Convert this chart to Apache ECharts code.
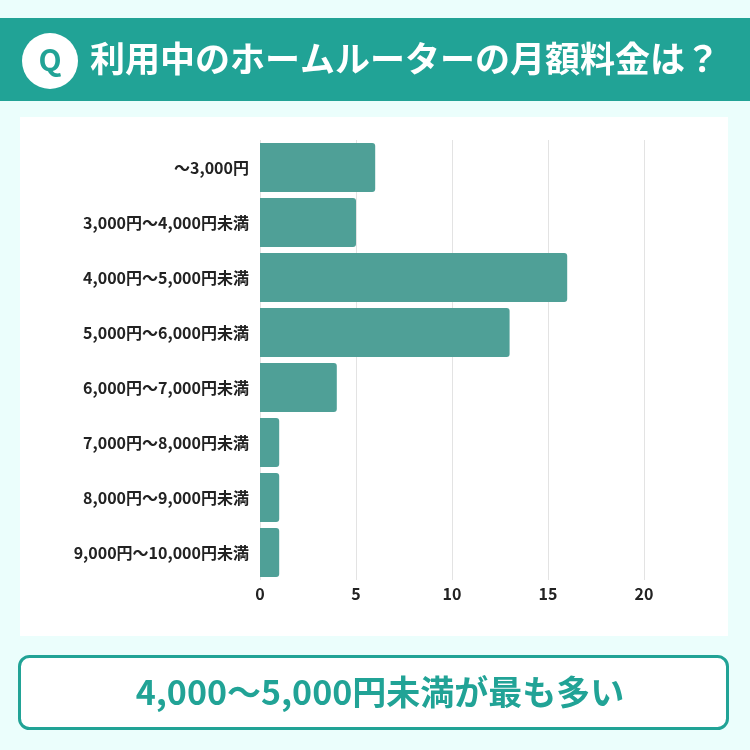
<!DOCTYPE html>
<html>
<head>
<meta charset="utf-8">
<script src="https://cdn.jsdelivr.net/npm/echarts@6/dist/echarts.min.js"></script>
<style>
html,body{margin:0;padding:0;background:#ebfefc;}
#main{width:750px;height:750px;}
</style>
</head>
<body>
<div id="main"></div>
<script>
// 月額料金の区分と人数
var categories = ['～3,000円','3,000円～4,000円未満','4,000円～5,000円未満','5,000円～6,000円未満','6,000円～7,000円未満','7,000円～8,000円未満','8,000円～9,000円未満','9,000円～10,000円未満'];
var counts = [6, 5, 16, 13, 4, 1, 1, 1];
var xTicks = [0, 5, 10, 15, 20];

var titleText = '利用中のホームルーターの月額料金は？';
var summaryText = '4,000～5,000円未満が最も多い';

var FONT = '"Noto Sans CJK JP", "Noto Sans", sans-serif';
var TEAL = '#21a396';

var myChart = echarts.init(document.getElementById('main'));

var option = {
    backgroundColor: '#ebfefc',
    animation: false,
    graphic: [
        // ヘッダー
        {type:'rect', shape:{x:0, y:18, width:750, height:83}, style:{fill:TEAL}, z:0},
        {type:'circle', shape:{cx:50, cy:61, r:28}, style:{fill:'#fff'}, z:1},
        {type:'text', x:50, y:60, style:{text:'Q', fill:TEAL, font:'bold 30px ' + FONT, align:'center', verticalAlign:'middle'}, z:2},
        {type:'text', x:90, y:59, style:{text:titleText, fill:'#fff', font:'bold 35px ' + FONT, align:'left', verticalAlign:'middle'}, z:2},
        // 白いパネル
        {type:'rect', shape:{x:20, y:117, width:708, height:519}, style:{fill:'#fff'}, z:-1},
        // まとめ
        {type:'rect', shape:{x:19.5, y:656.5, width:708, height:72, r:10}, style:{fill:'#fff', stroke:TEAL, lineWidth:3}, z:1},
        {type:'text', x:380, y:692, style:{text:summaryText, fill:TEAL, font:'bold 34px ' + FONT, align:'center', verticalAlign:'middle'}, z:2}
    ],
    grid: {
        left: 260,
        right: 106,
        top: 140,
        bottom: 170
    },
    xAxis: {
        type: 'value',
        min: 0,
        max: 20,
        interval: 5,
        axisLine: {show:false},
        axisTick: {show:false},
        splitLine: {lineStyle:{color:'#e3e3e3', width:1}},
        axisLabel: {
            color:'#222',
            fontFamily: FONT,
            fontWeight:'bold',
            fontSize:16,
            margin:6,
            formatter:function(v){ return xTicks.indexOf(v) >= 0 ? String(v) : ''; }
        }
    },
    yAxis: {
        type: 'category',
        inverse: true,
        data: categories,
        axisLine: {show:false},
        axisTick: {show:false},
        axisLabel: {
            color:'#222',
            fontFamily: FONT,
            fontWeight:'bold',
            fontSize:16,
            margin:11
        }
    },
    series: [{
        type: 'bar',
        data: counts,
        barCategoryGap: '11%',
        itemStyle: {
            color:'#4fa097',
            borderRadius:[0,3,3,0]
        }
    }]
};

myChart.setOption(option, true);
</script>
</body>
</html>
